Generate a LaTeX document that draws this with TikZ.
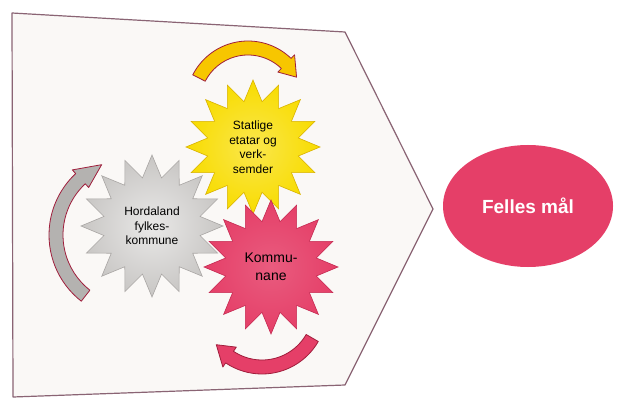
\documentclass[tikz,border=0pt]{standalone}
\usepackage{fontspec}
\setsansfont{Liberation Sans}
\usetikzlibrary{shapes.geometric,calc}
\newcommand{\starsize}{134pt}
\newcommand{\bandhalf}{7}
\newcommand{\headhalf}{12}
\definecolor{panelfill}{HTML}{FAF8F6}
\definecolor{paneledge}{HTML}{8A6474}
\definecolor{arrowedge}{HTML}{A01E3C}
\definecolor{sunyellow}{HTML}{F8DC00}
\definecolor{sunedge}{HTML}{D9B200}
\definecolor{turnyellow}{HTML}{F7C600}
\definecolor{silver}{HTML}{C8C6C4}
\definecolor{silveredge}{HTML}{A9A6A4}
\definecolor{rosepink}{HTML}{E53F68}
\definecolor{roseedge}{HTML}{C52A52}
% curved arrow: centre, radius, start, end, tip angle, fill
\newcommand{\turnarrow}[6]{%
  \filldraw[fill=#6, draw=arrowedge, line width=.8pt, line join=round]
    ($(#1)+(#3:{#2+\bandhalf})$) arc[start angle=#3, end angle=#4, radius={#2+\bandhalf}]
    -- ($(#1)+(#4:{#2+\headhalf})$) -- ($(#1)+(#5:#2)$) -- ($(#1)+(#4:{#2-\headhalf})$)
    -- ($(#1)+(#4:{#2-\bandhalf})$) arc[start angle=#4, end angle=#3, radius={#2-\bandhalf}]
    -- cycle;}

\begin{document}
\begin{tikzpicture}[x=1pt,y=1pt,
    bigstar/.style={star, star points=16, star point ratio=1.45, minimum size=\starsize,
      inner sep=0pt, line width=.6pt, align=center},
    startext/.style={font=\sffamily\fontsize{12}{14.5}\selectfont}]
        \useasboundingbox (0,0) rectangle (617,399);
        \fill[white] (0,0) rectangle (617,399);

        % panel
        \draw[fill=panelfill, draw=paneledge, line width=1.2pt, line join=round]
        (12,386) -- (345,367) -- (433,190) -- (345,14) -- (13,2) -- cycle;

        % arrow centres
        \coordinate (topturn) at (248,296);
        \coordinate (leftturn) at (133,164);
        \coordinate (lowturn) at (262,90);

        \turnarrow{topturn}{55}{153}{46}{28}{turnyellow}
        \turnarrow{leftturn}{77}{232}{133}{114}{silver!90!black}
        \turnarrow{lowturn}{58}{330}{236}{218}{rosepink}

        % the three partners
        \node (hordaland) at (152,173) [bigstar, minimum size=142pt, draw=silveredge,
          inner color=silver!40, outer color=silver, startext]
          {Hordaland\\fylkes-\\kommune};
        \node (statlige) at (253,252) [bigstar, draw=sunedge,
          inner color=sunyellow!70!white, outer color=sunyellow, startext]
          {Statlige\\etatar og\\verk-\\semder};
        \node (kommunane) at (271,132) [bigstar, draw=roseedge,
          inner color=rosepink!85!white, outer color=rosepink,
          font=\sffamily\fontsize{14}{17.5}\selectfont]
          {Kommu-\\nane};

        % goal
        \node (felles) at (528,193) [ellipse, fill=rosepink, minimum width=170pt,
          minimum height=122pt, text=white,
          font=\sffamily\bfseries\fontsize{19}{22}\selectfont] {Felles mål};
\end{tikzpicture}
\end{document}
